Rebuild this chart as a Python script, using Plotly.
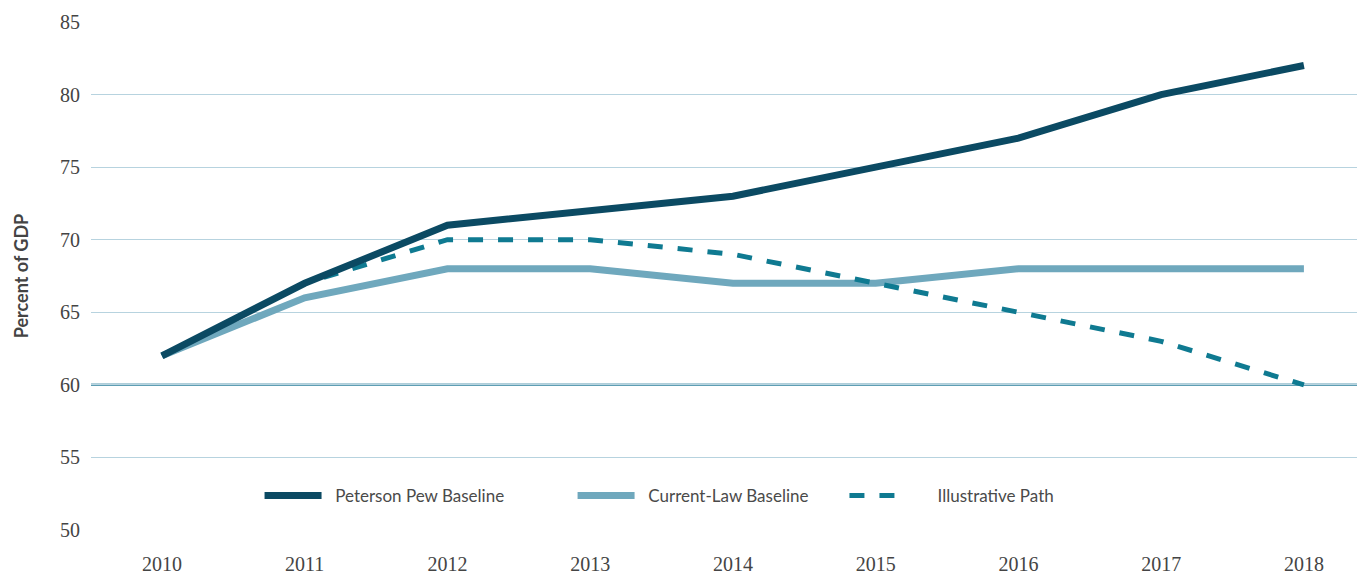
import plotly.graph_objects as go

years = ["2010", "2011", "2012", "2013", "2014", "2015", "2016", "2017", "2018"]
peterson = [62, 67, 71, 72, 73, 75, 77, 80, 82]
current_law = [62, 66, 68, 68, 67, 67, 68, 68, 68]
illustrative = [62, 67, 70, 70, 69, 67, 65, 63, 60]
y_ticks = [50, 55, 60, 65, 70, 75, 80, 85]

NB = "\u00a0\u00a0"

fig = go.Figure()
fig.add_trace(go.Scatter(x=years, y=current_law, mode="lines", name=NB + "Current-Law Baseline",
                         line=dict(color="#6fa8bd", width=7), legend="legend2"))
fig.add_trace(go.Scatter(x=years, y=illustrative, mode="lines", name=NB * 3 + "Illustrative Path",
                         line=dict(color="#0f7a91", width=5, dash="dash"), legend="legend3"))
fig.add_trace(go.Scatter(x=years, y=peterson, mode="lines", name=NB + "Peterson Pew Baseline",
                         line=dict(color="#0b4a63", width=7), legend="legend"))

fig.add_hline(y=60, line=dict(color="#5e9eb3", width=2.5), layer="below")

leg_common = dict(orientation="h", y=0.067, xanchor="left", yanchor="middle",
                  font=dict(family="Lato", size=17, color="#4a4a4a"),
                  bgcolor="rgba(0,0,0,0)", itemwidth=57)

fig.update_layout(
    width=1357, height=566,
    margin=dict(l=83, r=0, t=14, b=44),
    plot_bgcolor="white", paper_bgcolor="white",
    showlegend=True,
    legend=dict(x=0.1323, **leg_common),
    legend2=dict(x=0.378, **leg_common),
    legend3=dict(x=0.5914, **leg_common),
    xaxis=dict(type="category", range=[-0.497, 8.428], showgrid=False, zeroline=False,
               showline=False, ticks="", ticklabelstandoff=20,
               tickfont=dict(family="Liberation Serif", size=20, color="#444")),
    yaxis=dict(range=[50, 85], tickvals=y_ticks, showgrid=True, gridcolor="#b7d3df",
               gridwidth=1, zeroline=False, showline=False, ticks="", ticklabelstandoff=10,
               tickfont=dict(family="Liberation Serif", size=20, color="#444"),
               title=dict(text="<b>Percent of GDP</b>", standoff=26,
                          font=dict(family="Lato", size=18, color="#444"))),
)

fig.write_html("out.html")
